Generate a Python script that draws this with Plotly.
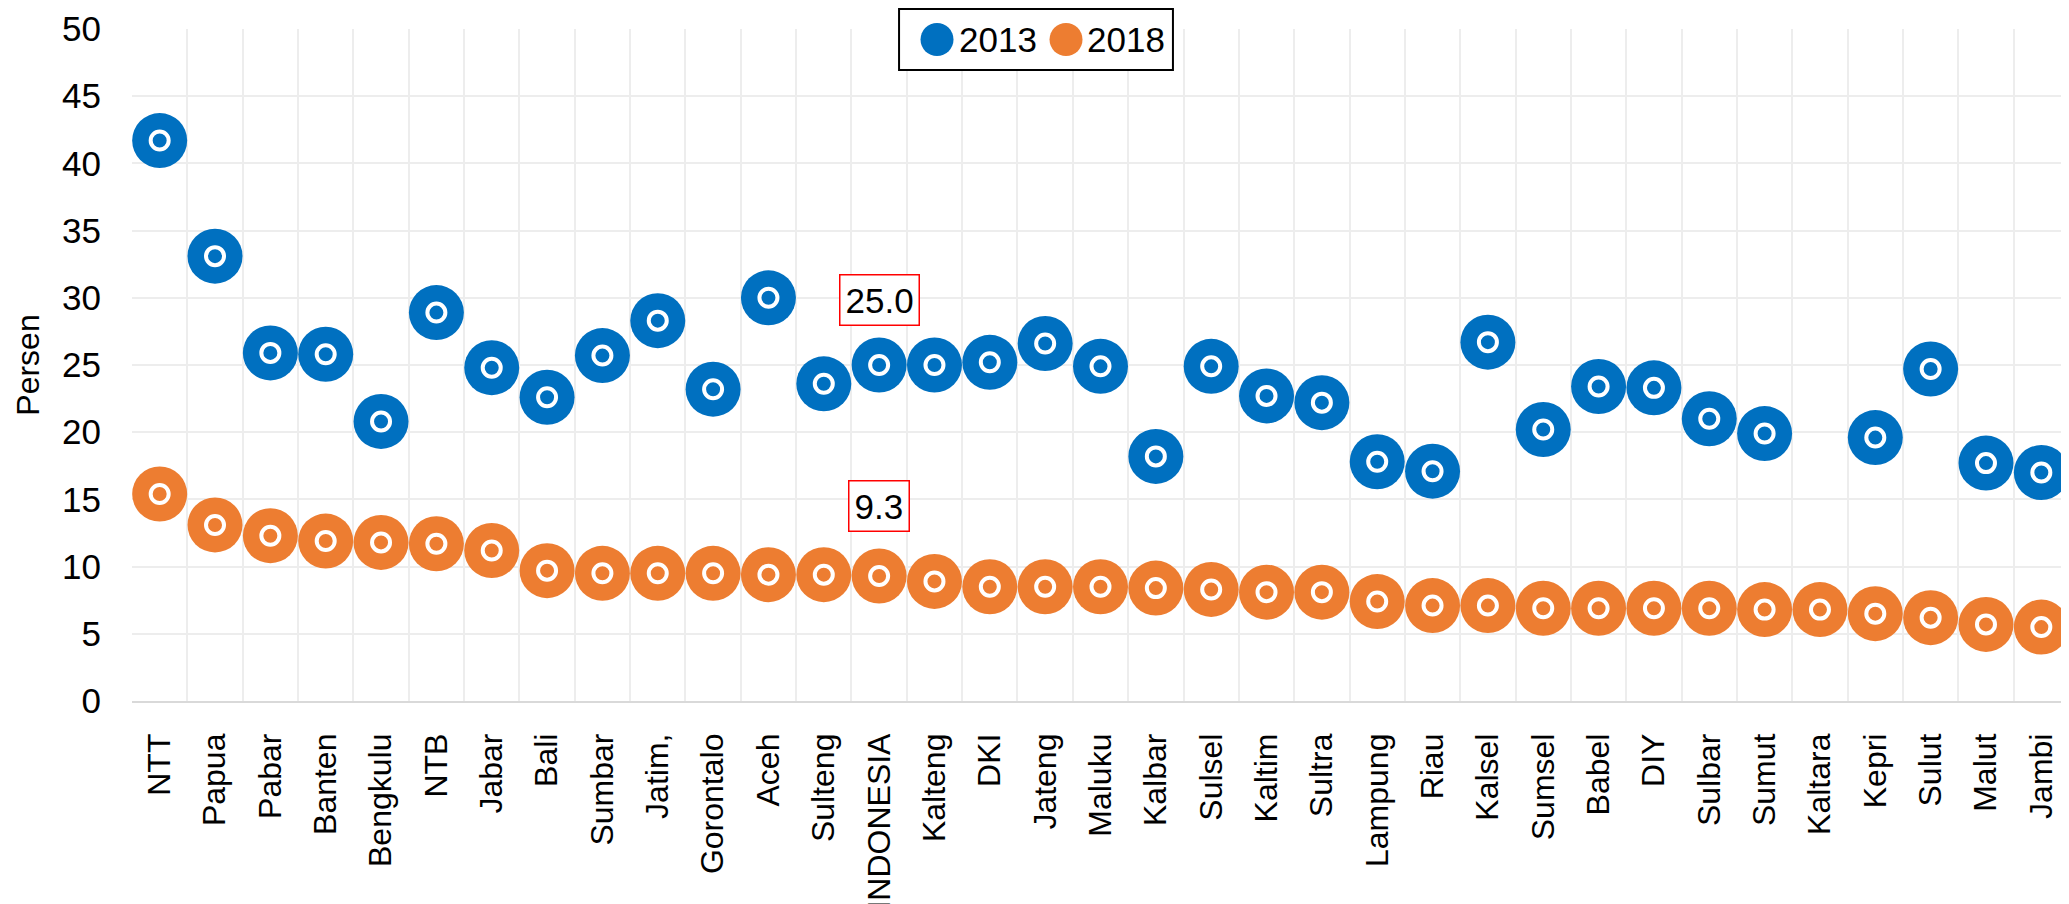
import plotly.graph_objects as go

categories = ["NTT", "Papua", "Pabar", "Banten", "Bengkulu", "NTB", "Jabar", "Bali", "Sumbar", "Jatim,",
              "Gorontalo", "Aceh", "Sulteng", "INDONESIA", "Kalteng", "DKI", "Jateng", "Maluku", "Kalbar",
              "Sulsel", "Kaltim", "Sultra", "Lampung", "Riau", "Kalsel", "Sumsel", "Babel", "DIY", "Sulbar",
              "Sumut", "Kaltara", "Kepri", "Sulut", "Malut", "Jambi"]
val_2013 = [41.7, 33.1, 25.9, 25.8, 20.8, 28.9, 24.8, 22.6, 25.7, 28.3,
            23.2, 30.0, 23.6, 25.0, 25.0, 25.2, 26.6, 24.9, 18.2,
            24.9, 22.7, 22.2, 17.8, 17.1, 26.7, 20.2, 23.4, 23.3, 21.0,
            19.9, None, 19.6, 24.7, 17.7, 17.0]
val_2018 = [15.4, 13.1, 12.3, 11.9, 11.8, 11.7, 11.2, 9.7, 9.5, 9.5,
            9.5, 9.4, 9.4, 9.3, 8.9, 8.5, 8.5, 8.5, 8.4,
            8.3, 8.1, 8.1, 7.4, 7.1, 7.1, 6.9, 6.9, 6.9, 6.9,
            6.8, 6.8, 6.5, 6.2, 5.7, 5.5]
series_names = ["2013", "2018"]
colors = ["#0070C0", "#ED7D31"]
highlight = "INDONESIA"
y_ticks = [0, 5, 10, 15, 20, 25, 30, 35, 40, 45, 50]

NUM = "Liberation Sans Narrow, Arial Narrow, Liberation Sans, Arial, sans-serif"
REG = "Liberation Sans, Arial, sans-serif"

fig = go.Figure()
for name, vals, col in zip(series_names, [val_2013, val_2018], colors):
    fig.add_trace(go.Scatter(x=categories, y=vals, mode="markers", name=name,
                             marker=dict(size=55, color=col, line=dict(width=0)),
                             showlegend=False, hoverinfo="x+y"))
    fig.add_trace(go.Scatter(x=categories, y=vals, mode="markers", name=name,
                             marker=dict(size=18, symbol="circle-open", color="white",
                                         line=dict(width=4, color="white")),
                             showlegend=False, hoverinfo="skip"))

idx = categories.index(highlight)
for vals, ysh in [(val_2013, 65), (val_2018, 70)]:
    fig.add_annotation(x=highlight, y=vals[idx], text=f"{vals[idx]:.1f}", showarrow=False,
                       yshift=ysh, font=dict(family=NUM, size=35, color="black"),
                       bordercolor="#FF0000", borderwidth=1.5, borderpad=5, bgcolor="white")

# custom legend (box, symbols, labels) in paper coordinates
fig.add_shape(type="rect", xref="paper", yref="paper", x0=0.3960, x1=0.5374, y0=0.9390, y1=1.0298,
              line=dict(color="black", width=2), fillcolor="white", layer="above")
leg_y = 0.9844
for name, col, xc, xt in zip(series_names, colors, [0.4156, 0.4822], [0.4264, 0.4925]):
    fig.add_shape(type="circle", xref="paper", yref="paper", xsizemode="pixel", ysizemode="pixel",
                  xanchor=xc, yanchor=leg_y, x0=-16.5, x1=16.5, y0=-16.5, y1=16.5,
                  line=dict(width=0), fillcolor=col, layer="above")
    fig.add_annotation(xref="paper", yref="paper", x=xt, y=leg_y, text=name, showarrow=False,
                       xanchor="left", yanchor="middle", borderpad=0,
                       font=dict(family=NUM, size=35, color="black"))

fig.update_layout(
    width=2069, height=904,
    margin=dict(l=124, r=8, t=21, b=211),
    plot_bgcolor="white", paper_bgcolor="white",
    showlegend=False,
    xaxis=dict(type="category", tickson="boundaries", showgrid=True, gridcolor="#EDEDED", gridwidth=1.5,
               tickangle=-90, tickfont=dict(family=REG, size=32, color="black"),
               showline=True, linecolor="#D9D9D9", linewidth=1.5, ticks="",
               ticklabelstandoff=18, automargin=False, range=[-0.5, len(categories) - 0.5]),
    yaxis=dict(range=[0, 50], tickvals=y_ticks, showgrid=True, gridcolor="#EDEDED", gridwidth=1.5,
               tickfont=dict(family=NUM, size=35, color="black"), zeroline=False,
               ticks="", ticklabelstandoff=30, automargin=False,
               title=dict(text="Persen", font=dict(family=REG, size=32, color="black"), standoff=12)),
)

fig.write_html("out.html")
